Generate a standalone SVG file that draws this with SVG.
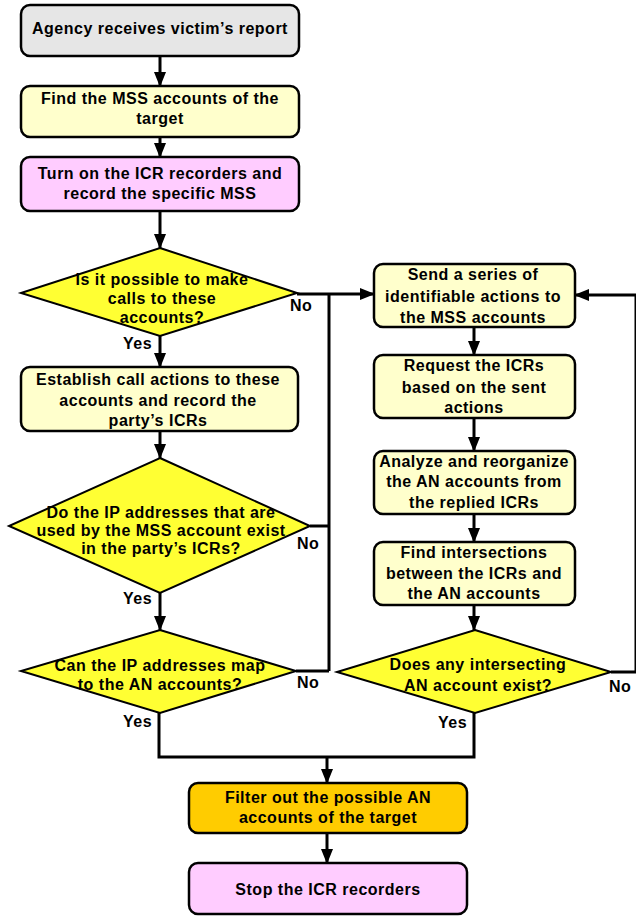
<svg xmlns="http://www.w3.org/2000/svg" width="636" height="916" viewBox="0 0 636 916">
<defs>
<marker id="ah" markerUnits="userSpaceOnUse" markerWidth="15" markerHeight="12" refX="14" refY="6" orient="auto">
<path d="M0,0 L15,6 L0,12 z" fill="#000"/>
</marker>
<style>
text{font-family:"Liberation Sans",Arial,sans-serif;font-weight:bold;font-size:16px;letter-spacing:0.5px;fill:#000;text-anchor:middle}
.box{stroke:#000;stroke-width:2.5}
.dia{fill:#FFFF33;stroke:#000;stroke-width:2}
.gray{fill:#E6E6E6}
.yel{fill:#FFFFCC}
.pink{fill:#FFCCFF}
.gold{fill:#FFCC00}
.c{fill:none;stroke:#000;stroke-width:3}
.a{marker-end:url(#ah)}
.lbl{text-anchor:start}
</style>
</defs>
<rect width="636" height="916" fill="#fff"/>
<g id="connectors">
<path class="c a" d="M160,56 V86"/>
<path class="c a" d="M160,137 V157"/>
<path class="c a" d="M160,211 V248"/>
<path class="c a" d="M160,336 V367"/>
<path class="c a" d="M160,431 V458"/>
<path class="c a" d="M160,593 V630"/>
<path class="c a" d="M297,294 H374"/>
<path class="c" d="M329,294 V671"/>
<path class="c" d="M310,526 H329"/>
<path class="c" d="M296,671 H329"/>
<path class="c" d="M159,713 V757 H474 V713"/>
<path class="c a" d="M327,757 V783"/>
<path class="c a" d="M327,833 V863"/>
<path class="c a" d="M474,327 V355"/>
<path class="c a" d="M474,418 V451"/>
<path class="c a" d="M474,514 V542"/>
<path class="c a" d="M474,605 V630"/>
<path class="c" d="M611,672 H636 V295"/>
<path class="c a" d="M636,295 H575"/>
<text class="lbl" x="290" y="311">No</text>
<text class="lbl" x="123" y="349">Yes</text>
<text class="lbl" x="297" y="549">No</text>
<text class="lbl" x="123" y="604">Yes</text>
<text class="lbl" x="297" y="688">No</text>
<text class="lbl" x="123" y="727">Yes</text>
<text class="lbl" x="609" y="692">No</text>
<text class="lbl" x="438" y="728">Yes</text>
</g>
<g id="n1">
<rect class="box gray" x="21" y="5" width="278" height="51" rx="9"/>
<text x="160" y="34">Agency receives victim’s report</text>
</g>
<g id="n2">
<rect class="box yel" x="21" y="86" width="278" height="51" rx="9"/>
<text x="160" y="104">Find the MSS accounts of the</text>
<text x="160" y="124">target</text>
</g>
<g id="n3">
<rect class="box pink" x="21" y="157" width="278" height="54" rx="9"/>
<text x="160" y="179">Turn on the ICR recorders and</text>
<text x="160" y="199">record the specific MSS</text>
</g>
<g id="d1">
<polygon class="dia" points="160,248 297,293 160,336 21,293"/>
<text x="162" y="285">Is it possible to make</text>
<text x="162" y="304">calls to these</text>
<text x="162" y="323">accounts?</text>
</g>
<g id="n4">
<rect class="box yel" x="21" y="367" width="277" height="64" rx="9"/>
<text x="158" y="385">Establish call actions to these</text>
<text x="158" y="406">accounts and record the</text>
<text x="158" y="426">party’s ICRs</text>
</g>
<g id="d2">
<polygon class="dia" points="160,458 310,526 160,593 9,526"/>
<text x="161" y="518">Do the IP addresses that are</text>
<text x="161" y="536">used by the MSS account exist</text>
<text x="161" y="554">in the party’s ICRs?</text>
</g>
<g id="d3">
<polygon class="dia" points="160,630 296,671 160,713 21,671"/>
<text x="160" y="671">Can the IP addresses map</text>
<text x="160" y="690">to the AN accounts?</text>
</g>
<g id="n5">
<rect class="box yel" x="374" y="264" width="201" height="63" rx="9"/>
<text x="473" y="280">Send a series of</text>
<text x="473" y="302">identifiable actions to</text>
<text x="473" y="323">the MSS accounts</text>
</g>
<g id="n6">
<rect class="box yel" x="374" y="355" width="201" height="63" rx="9"/>
<text x="474" y="371">Request the ICRs</text>
<text x="474" y="393">based on the sent</text>
<text x="474" y="413">actions</text>
</g>
<g id="n7">
<rect class="box yel" x="374" y="451" width="201" height="63" rx="9"/>
<text x="474" y="467">Analyze and reorganize</text>
<text x="474" y="487">the AN accounts from</text>
<text x="474" y="508">the replied ICRs</text>
</g>
<g id="n8">
<rect class="box yel" x="374" y="542" width="201" height="63" rx="9"/>
<text x="474" y="558">Find intersections</text>
<text x="474" y="579">between the ICRs and</text>
<text x="474" y="599">the AN accounts</text>
</g>
<g id="d5">
<polygon class="dia" points="475,630 611,672 475,713 337,672"/>
<text x="478" y="670">Does any intersecting</text>
<text x="478" y="691">AN account exist?</text>
</g>
<g id="n9">
<rect class="box gold" x="189" y="783" width="278" height="50" rx="9"/>
<text x="328" y="803">Filter out the possible AN</text>
<text x="328" y="823">accounts of the target</text>
</g>
<g id="n10">
<rect class="box pink" x="189" y="863" width="278" height="51" rx="9"/>
<text x="328" y="895">Stop the ICR recorders</text>
</g>
</svg>
